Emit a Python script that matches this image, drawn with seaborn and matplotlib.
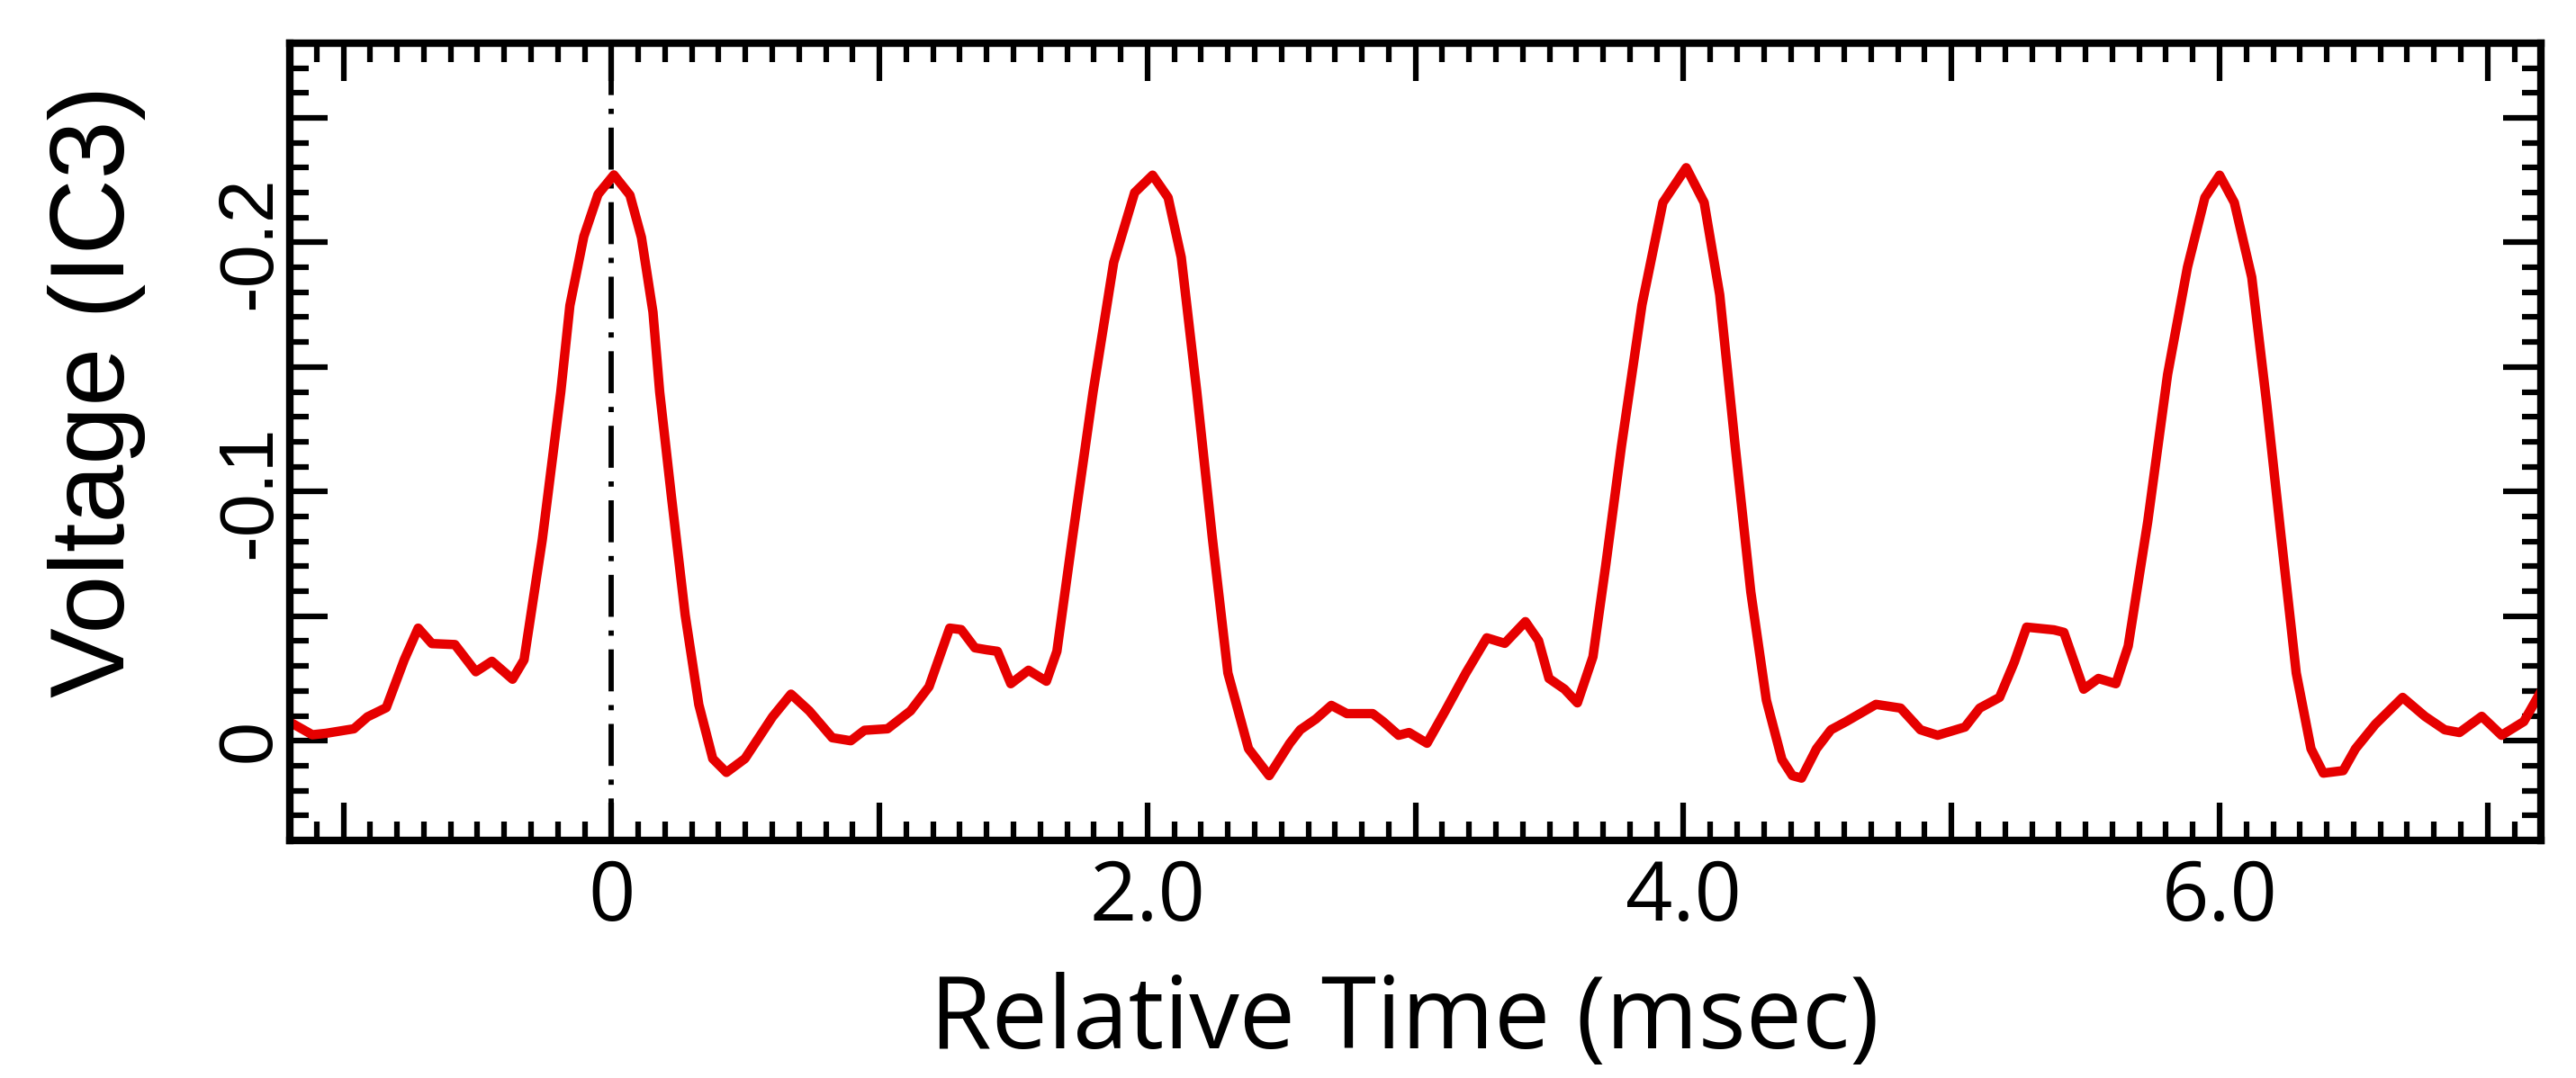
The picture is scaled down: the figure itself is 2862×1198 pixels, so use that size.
import numpy as np
import pandas as pd
import matplotlib
matplotlib.use("Agg")
import matplotlib.pyplot as plt
from matplotlib.ticker import FixedLocator, MultipleLocator, FuncFormatter
import seaborn as sns

# valores (tiempo en msec, voltaje IC3)
time_ms = [-1.20, -1.185, -1.116, -1.064, -0.961, -0.91, -0.84, -0.773, -0.721, -0.67,
           -0.584, -0.506, -0.446, -0.369, -0.326, -0.258, -0.189, -0.155, -0.103, -0.05,
           0.009, 0.069, 0.112, 0.155, 0.18, 0.223, 0.275, 0.326, 0.378, 0.429,
           0.498, 0.601, 0.67, 0.738, 0.824, 0.893, 0.944, 1.03, 1.116, 1.185,
           1.262, 1.305, 1.356, 1.40, 1.44, 1.49, 1.556, 1.623, 1.662, 1.72,
           1.797, 1.874, 1.952, 2.019, 2.077, 2.126, 2.184, 2.242, 2.30, 2.377,
           2.454, 2.531, 2.57, 2.628, 2.686, 2.744, 2.84, 2.879, 2.937, 2.976,
           3.043, 3.111, 3.188, 3.266, 3.333, 3.41, 3.459, 3.498, 3.556, 3.604,
           3.662, 3.71, 3.768, 3.845, 3.923, 4.01, 4.077, 4.135, 4.193, 4.251,
           4.309, 4.367, 4.406, 4.44, 4.496, 4.55, 4.607, 4.718, 4.81, 4.884,
           4.948, 5.05, 5.105, 5.179, 5.234, 5.28, 5.382, 5.419, 5.493, 5.548,
           5.613, 5.659, 5.732, 5.806, 5.88, 5.945, 6.0, 6.055, 6.12, 6.175,
           6.23, 6.286, 6.341, 6.387, 6.461, 6.507, 6.581, 6.683, 6.766, 6.84,
           6.895, 6.978, 7.052, 7.135, 7.2]

voltage = [-0.0075, -0.0066, -0.0024, -0.003, -0.0048, -0.0096, -0.0133, -0.0325, -0.0452, -0.039,
           -0.0386, -0.0277, -0.0319, -0.0247, -0.0325, -0.0807, -0.140, -0.1747, -0.2024, -0.2193,
           -0.2271, -0.219, -0.202, -0.172, -0.140, -0.0988, -0.0506, -0.0145, 0.0072, 0.0127,
           0.0072, -0.0096, -0.0187, -0.012, -0.0012, 0.0, -0.0042, -0.0048, -0.012, -0.0217,
           -0.0452, -0.0446, -0.0373, -0.0365, -0.0359, -0.0229, -0.0283, -0.0239, -0.0359, -0.0814,
           -0.140, -0.192, -0.220, -0.227, -0.218, -0.194, -0.140, -0.0814, -0.0272, 0.0032,
           0.014, 0.001, -0.0044, -0.0087, -0.0142, -0.0109, -0.0109, -0.0077, -0.0022, -0.0033,
           0.001, -0.012, -0.0272, -0.0413, -0.0391, -0.0478, -0.0402, -0.025, -0.0207, -0.0152,
           -0.0337, -0.0706, -0.118, -0.175, -0.216, -0.230, -0.216, -0.179, -0.118, -0.0597,
           -0.0163, 0.0075, 0.014, 0.015, 0.0032, -0.0044, -0.0077, -0.0146, -0.0131, -0.0044,
           -0.0022, -0.0055, -0.0131, -0.0174, -0.0315, -0.0456, -0.0445, -0.0435, -0.0207, -0.025,
           -0.0229, -0.038, -0.088, -0.147, -0.190, -0.218, -0.227, -0.216, -0.186, -0.136,
           -0.0814, -0.0272, 0.0032, 0.013, 0.012, 0.0032, -0.0066, -0.0174, -0.0098, -0.0044,
           -0.0033, -0.0098, -0.0022, -0.0077, -0.020]

x_major = [-1, 0, 1, 2, 3, 4, 5, 6, 7]
x_labeled = {0: "0", 2: "2.0", 4: "4.0", 6: "6.0"}
y_major = [-0.25, -0.2, -0.15, -0.1, -0.05, 0.0]
y_labeled = {-0.2: "-0.2", -0.1: "-0.1", 0.0: "0"}

df = pd.DataFrame({"t": time_ms, "v": voltage})

sns.set_style("ticks")
plt.rcParams["font.family"] = ["Liberation Sans", "DejaVu Sans"]
plt.rcParams.update({"text.color": "black", "axes.labelcolor": "black",
                     "xtick.color": "black", "ytick.color": "black",
                     "axes.edgecolor": "black"})

fig = plt.figure(figsize=(28.62, 11.98), dpi=100)
ax = fig.add_axes([0.1125, 0.2204, 0.874, 0.7396])

# señal y línea de referencia en t = 0
sns.lineplot(data=df, x="t", y="v", ax=ax, color="#e60000", linewidth=7.5, sort=False)
ax.axvline(0, color="black", linewidth=4.2, ls=(0, (8, 2.6, 1, 2.6)), zorder=1)

ax.set_xlim(-1.2, 7.2)
ax.set_ylim(0.04, -0.28)

ax.xaxis.set_major_locator(FixedLocator(x_major))
ax.xaxis.set_minor_locator(MultipleLocator(0.1))
ax.yaxis.set_major_locator(FixedLocator(y_major))
ax.yaxis.set_minor_locator(MultipleLocator(0.01))
ax.xaxis.set_major_formatter(FuncFormatter(lambda v, p: x_labeled.get(int(round(v)), "")))
ax.yaxis.set_major_formatter(FuncFormatter(lambda v, p: y_labeled.get(round(v, 2) + 0.0, "")))

for s in ax.spines.values():
    s.set_linewidth(6)
ax.tick_params(which="both", direction="in", top=True, right=True, width=4.5, color="black")
ax.tick_params(which="major", length=30)
ax.tick_params(which="minor", length=15)
ax.tick_params(axis="x", pad=14)
ax.tick_params(axis="y", pad=3, labelrotation=90)

for lab in ax.get_xticklabels():
    lab.set_family(["Open Sans", "DejaVu Sans"])
    lab.set_fontsize(66)
for lab in ax.get_yticklabels():
    lab.set_fontsize(62)
    lab.set_va("center")

ax.set_xlabel("Relative Time (msec)", fontsize=80, family=["Open Sans", "DejaVu Sans"])
ax.set_ylabel("Voltage (IC3)", fontsize=84)
ax.xaxis.set_label_coords(0.495, -0.165)
ax.yaxis.set_label_coords(-0.064, 0.563)

fig.savefig("out.png", dpi=100)
